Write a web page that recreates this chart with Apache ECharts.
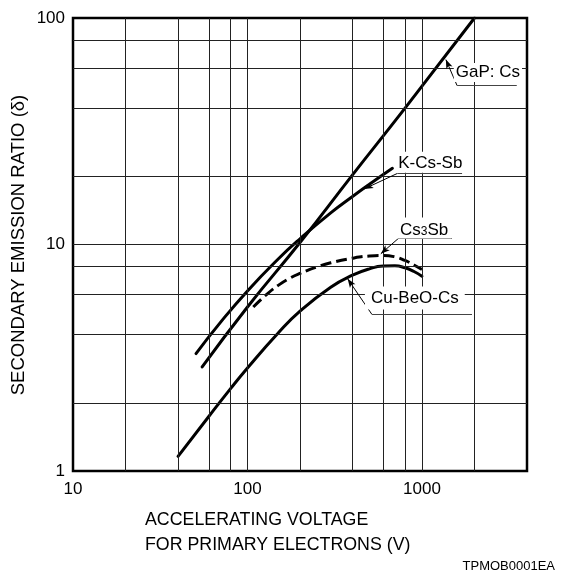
<!DOCTYPE html>
<html><head><meta charset="utf-8">
<script src="https://cdn.jsdelivr.net/npm/echarts@6/dist/echarts.min.js"></script>
<style>html,body{margin:0;padding:0;background:#fff}#c{width:565px;height:582px}</style>
</head><body><div id="c"></div>
<script>
// Axis grid (log-log)
const xGridLines = [20, 40, 60, 80, 100, 200, 400, 600, 800, 1000, 2000];
const yGridLines = [2, 4, 6, 8, 10, 20, 40, 60, 80];

// Curves: accelerating voltage (V) vs secondary emission ratio
const gapCsV = [55, 100, 200, 400, 800, 2000];
const gapCsD = [2.88, 5.3, 10.2, 20.3, 40, 100];
const kCsSbV = [50.7, 70, 100, 150, 200, 300, 400, 500, 677];
const kCsSbD = [3.3, 4.53, 6.24, 8.63, 10.6, 13.8, 16.3, 18.45, 21.7];
const cs3SbV = [108, 130, 150, 175, 200, 250, 300, 400, 500, 600, 700, 800, 900, 1000];
const cs3SbD = [5.3, 6.06, 6.6, 7.1, 7.45, 7.95, 8.3, 8.7, 8.9, 8.95, 8.82, 8.5, 8.12, 7.75];
const cuBeOV = [40, 60, 80, 100, 150, 200, 300, 400, 500, 600, 700, 800, 900, 1000];
const cuBeOD = [1.16, 1.74, 2.31, 2.85, 4.07, 5.08, 6.48, 7.32, 7.81, 8.03, 8.05, 7.89, 7.6, 7.25];

// Curve labels with leader lines (data coordinates)
const labelTexts = ['GaP: Cs', 'K-Cs-Sb', '{n|Cs}{s|3}{n|Sb}', 'Cu-BeO-Cs'];
const labelAt    = [[1522, 57.5], [702, 23.07], [720, 11.82], [471, 5.81]];
const leaderTip  = [[1371, 65.5], [467, 17.6], [581, 9.1], [375, 7.06]];
const leaderElb  = [[1590, 50.3], [723, 20.6], [739, 10.7], [517, 4.91]];
const leaderEnd  = [[3495, 50.3], [1698, 20.6], [1483, 10.7], [1936, 4.91]];
const labelPad   = [[1, 2], [3, 3, 1, 3], [4, 3, 0, 3], [3, 6]];

const FONT = 'Liberation Sans';
const zip = (a, b) => a.map((v, i) => [v, b[i]]);

const chart = echarts.init(document.getElementById('c'), null, {renderer: 'canvas'});

function curve(name, xs, ys, dashed) {
  return {
    name, type: 'line', data: zip(xs, ys), showSymbol: false, symbol: 'none',
    smooth: 0.5, z: 3, silent: true,
    lineStyle: dashed ? {color: '#000', width: 3, type: [11, 5], cap: 'butt'}
                      : {color: '#000', width: 3, type: 'solid', cap: 'round'}
  };
}

const option = {
  animation: false,
  backgroundColor: '#fff',
  textStyle: {fontFamily: FONT, color: '#000'},
  grid: {left: 73, right: 38, top: 18, bottom: 111, show: true, borderColor: '#000', borderWidth: 2.5, backgroundColor: 'transparent'},
  xAxis: {
    type: 'log', logBase: 10, min: 10, max: 4000,
    axisLine: {show: false}, axisTick: {show: false}, splitLine: {show: false},
    axisLabel: {fontSize: 17, color: '#000', margin: 10, showMaxLabel: false, fontFamily: FONT,
      formatter: v => String(Math.round(v))}
  },
  yAxis: {
    type: 'log', logBase: 10, min: 1, max: 100,
    axisLine: {show: false}, axisTick: {show: false}, splitLine: {show: false},
    axisLabel: {fontSize: 17, color: '#000', margin: 8, fontFamily: FONT,
      formatter: v => String(Math.round(v))}
  },
  graphic: [
    {type: 'text', x: 145, y: 532.5, silent: true,
     style: {text: 'ACCELERATING VOLTAGE\nFOR PRIMARY ELECTRONS (V)', fontSize: 17.8, fontFamily: FONT, lineHeight: 25,
             fill: '#000', align: 'left', verticalAlign: 'middle'}},
    {type: 'text', x: 19, y: 245, rotation: Math.PI / 2, silent: true,
     style: {text: 'SECONDARY EMISSION RATIO (δ)', fontSize: 18.5, fontFamily: FONT, fill: '#000',
             align: 'center', verticalAlign: 'middle'}},
    {type: 'text', x: 555, y: 566, silent: true,
     style: {text: 'TPMOB0001EA', fontSize: 13, fontFamily: FONT, fill: '#000', align: 'right', verticalAlign: 'middle'}}
  ],
  series: [
    {
      type: 'line', data: [], silent: true, z: 1,
      markLine: {
        silent: true, symbol: ['none', 'none'], animation: false, label: {show: false},
        lineStyle: {color: '#222', width: 1, type: 'solid'},
        emphasis: {disabled: true},
        data: xGridLines.map(v => ({xAxis: v})).concat(yGridLines.map(v => ({yAxis: v})))
      }
    },
    curve('GaP: Cs', gapCsV, gapCsD, false),
    curve('K-Cs-Sb', kCsSbV, kCsSbD, false),
    curve('Cs3Sb', cs3SbV, cs3SbD, true),
    curve('Cu-BeO-Cs', cuBeOV, cuBeOD, false),
    {
      type: 'line', data: [], silent: true, z: 4,
      markPoint: {
        silent: true, symbol: 'circle', symbolSize: 0, animation: false,
        data: labelTexts.map((t, i) => ({
          coord: labelAt[i], value: t,
          label: {
            show: true, position: 'right', distance: 0, formatter: t,
            fontSize: 17, fontFamily: FONT, color: '#000', backgroundColor: '#fff',
            padding: labelPad[i],
            rich: {n: {fontSize: 17, fontFamily: FONT, color: '#000', verticalAlign: 'bottom'},
                   s: {fontSize: 12, fontFamily: FONT, color: '#000', verticalAlign: 'bottom', padding: [0, 0, 1, 0]}}
          }
        }))
      }
    },
    {
      type: 'line', data: [], silent: true, z: 5,
      markLine: {
        silent: true, symbol: ['none', 'none'], animation: false, label: {show: false},
        lineStyle: {color: '#000', width: 1, type: 'solid'},
        emphasis: {disabled: true},
        data: leaderTip.map((p, i) => [
          {coord: p, symbol: 'arrow', symbolSize: [5, 9]}, {coord: leaderElb[i]}
        ]).concat(leaderElb.map((p, i) => [
          {coord: p}, {coord: leaderEnd[i], lineStyle: {color: '#444'}}
        ]))
      }
    }
  ]
};
chart.setOption(option);
</script>
</body></html>
